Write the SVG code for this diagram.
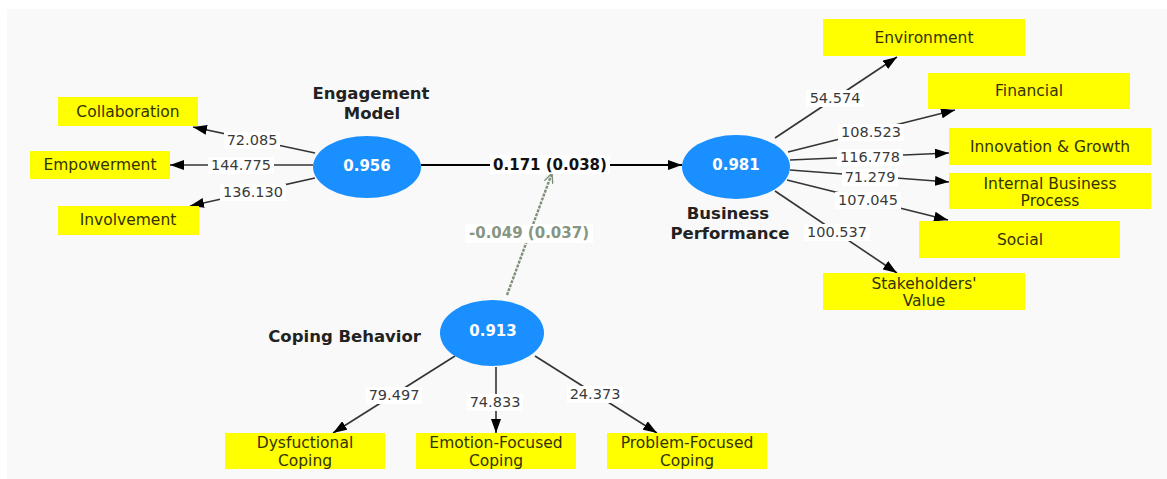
<svg xmlns="http://www.w3.org/2000/svg" width="1167" height="479" viewBox="0 0 1167 479">
<style>
  text { font-family: "DejaVu Sans", "Liberation Sans", sans-serif; dominant-baseline: central; text-anchor: middle; }
  .box { fill: #ffff00; }
  .bl { font-size: 15.5px; fill: #333300; }
  .lv { fill: #1a8fff; }
  .lvt { font-size: 15px; font-weight: bold; fill: #ffffff; }
  .nm { font-size: 16.5px; font-weight: bold; fill: #222222; }
  .lab { font-size: 15px; font-weight: bold; }
  .edge { stroke: #333333; stroke-width: 1.6; fill: none; marker-end: url(#ah); }
  .lbg { fill: #ffffff; }
  .num { font-size: 14.5px; fill: #3a3a3a; }
</style>
<defs>
  <marker id="ah" viewBox="0 0 14 10" refX="14" refY="5" markerWidth="14" markerHeight="10" markerUnits="userSpaceOnUse" orient="auto">
    <path d="M0,0 L14,5 L0,10 Z" fill="#000000"/>
  </marker>
  <marker id="oh" viewBox="0 0 12 10" refX="11" refY="5" markerWidth="12" markerHeight="10" markerUnits="userSpaceOnUse" orient="auto">
    <path d="M1,0.5 L11,5 L1,9.5" fill="none" stroke="#7f8f78" stroke-width="1.4"/>
  </marker>
</defs>
<rect x="0" y="0" width="1167" height="479" fill="#ffffff"/>
<rect x="7" y="9" width="1160" height="470" fill="#f9f9f9"/>

<g id="connectors">
  <line class="edge" x1="315" y1="153" x2="193" y2="127"/>
  <line class="edge" x1="313" y1="165" x2="170" y2="165"/>
  <line class="edge" x1="315" y1="178" x2="190" y2="206"/>
  <line x1="421" y1="165" x2="682" y2="165" stroke="#000000" stroke-width="2.2" marker-end="url(#ah)"/>
  <line x1="507" y1="295" x2="552" y2="173" stroke="#7f8f78" stroke-width="2.4" stroke-dasharray="3,1.2" marker-end="url(#oh)"/>
  <line class="edge" x1="775" y1="138" x2="897" y2="57"/>
  <line class="edge" x1="788" y1="152" x2="955" y2="110"/>
  <line class="edge" x1="790" y1="160" x2="949" y2="153"/>
  <line class="edge" x1="790" y1="170" x2="949" y2="182"/>
  <line class="edge" x1="787" y1="180" x2="948" y2="220"/>
  <line class="edge" x1="775" y1="191" x2="897" y2="273"/>
  <line class="edge" x1="455" y1="356" x2="333" y2="433"/>
  <line class="edge" x1="496" y1="367" x2="496" y2="433"/>
  <line class="edge" x1="535" y1="356" x2="657" y2="433"/>

  <rect class="lbg" x="224" y="132" width="56" height="17"/><text class="num" x="252" y="140">72.085</text>
  <rect class="lbg" x="208" y="157" width="66" height="17"/><text class="num" x="241" y="165">144.775</text>
  <rect class="lbg" x="220" y="184" width="66" height="17"/><text class="num" x="253" y="192">136.130</text>
  <rect class="lbg" x="490" y="155" width="120" height="19"/><text class="lab" x="550" y="165" style="fill:#111111">0.171 (0.038)</text>
  <rect class="lbg" x="465" y="224" width="128" height="19"/><text class="lab" x="529" y="233" style="fill:#869682">-0.049 (0.037)</text>
  <rect class="lbg" x="806" y="90" width="58" height="17"/><text class="num" x="835" y="98">54.574</text>
  <rect class="lbg" x="838" y="124" width="66" height="17"/><text class="num" x="871" y="132">108.523</text>
  <rect class="lbg" x="837" y="149" width="66" height="17"/><text class="num" x="870" y="157">116.778</text>
  <rect class="lbg" x="842" y="169" width="56" height="17"/><text class="num" x="870" y="177">71.279</text>
  <rect class="lbg" x="835" y="192" width="66" height="17"/><text class="num" x="868" y="200">107.045</text>
  <rect class="lbg" x="804" y="224" width="66" height="17"/><text class="num" x="837" y="232">100.537</text>
  <rect class="lbg" x="366" y="387" width="56" height="17"/><text class="num" x="394" y="395">79.497</text>
  <rect class="lbg" x="467" y="394" width="56" height="17"/><text class="num" x="495" y="402">74.833</text>
  <rect class="lbg" x="567" y="386" width="56" height="17"/><text class="num" x="595" y="394">24.373</text>
</g>

<g id="engagement-model">
  <ellipse class="lv" cx="367" cy="167" rx="54" ry="31"/>
  <text class="lvt" x="367" y="166">0.956</text>
  <text class="nm" x="371" y="93">Engagement</text>
  <text class="nm" x="372" y="113">Model</text>
</g>
<g id="business-performance">
  <ellipse class="lv" cx="736" cy="167" rx="54" ry="32"/>
  <text class="lvt" x="736" y="165">0.981</text>
  <text class="nm" x="728" y="213">Business</text>
  <text class="nm" x="730" y="233">Performance</text>
</g>
<g id="coping-behavior">
  <ellipse class="lv" cx="492" cy="333" rx="52" ry="33"/>
  <text class="lvt" x="493" y="331">0.913</text>
  <text class="nm" x="421" y="336" style="text-anchor:end">Coping Behavior</text>
</g>

<g id="collaboration"><rect class="box" x="58" y="97" width="140" height="29"/><text class="bl" x="128" y="112">Collaboration</text></g>
<g id="empowerment"><rect class="box" x="30" y="151" width="140" height="28"/><text class="bl" x="100" y="165">Empowerment</text></g>
<g id="involvement"><rect class="box" x="58" y="206" width="141" height="29"/><text class="bl" x="128" y="220">Involvement</text></g>

<g id="environment"><rect class="box" x="823" y="19" width="202" height="37"/><text class="bl" x="924" y="38">Environment</text></g>
<g id="financial"><rect class="box" x="928" y="73" width="202" height="36"/><text class="bl" x="1029" y="91">Financial</text></g>
<g id="innovation-growth"><rect class="box" x="949" y="128" width="202" height="37"/><text class="bl" x="1050" y="147">Innovation &amp; Growth</text></g>
<g id="internal-business-process"><rect class="box" x="949" y="173" width="202" height="36"/><text class="bl" x="1050" y="184">Internal Business</text><text class="bl" x="1050" y="201">Process</text></g>
<g id="social"><rect class="box" x="919" y="221" width="201" height="37"/><text class="bl" x="1020" y="240">Social</text></g>
<g id="stakeholders-value"><rect class="box" x="823" y="273" width="202" height="37"/><text class="bl" x="924" y="284">Stakeholders'</text><text class="bl" x="924" y="301">Value</text></g>

<g id="dysfunctional-coping"><rect class="box" x="225" y="433" width="160" height="36"/><text class="bl" x="305" y="443">Dysfuctional</text><text class="bl" x="305" y="461">Coping</text></g>
<g id="emotion-focused-coping"><rect class="box" x="416" y="433" width="160" height="36"/><text class="bl" x="496" y="443">Emotion-Focused</text><text class="bl" x="496" y="461">Coping</text></g>
<g id="problem-focused-coping"><rect class="box" x="607" y="433" width="160" height="36"/><text class="bl" x="687" y="443">Problem-Focused</text><text class="bl" x="687" y="461">Coping</text></g>
</svg>
